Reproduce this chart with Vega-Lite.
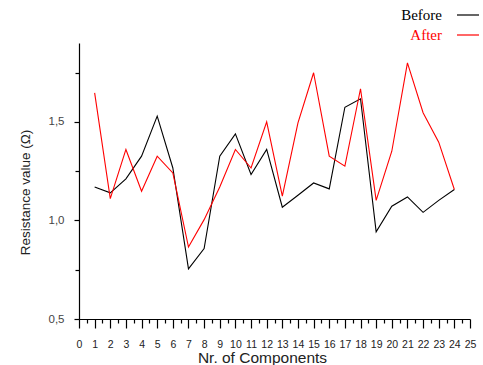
{
  "$schema": "https://vega.github.io/schema/vega-lite/v6.json",
  "width": 391,
  "height": 276,
  "autosize": {"type": "none"},
  "padding": {"left": 79, "top": 43, "right": 13, "bottom": 46},
  "background": "white",
  "config": {
    "view": {"stroke": null},
    "axis": {
      "grid": false,
      "domainColor": "black",
      "domainWidth": 1.2,
      "tickColor": "black",
      "tickWidth": 1.2,
      "labelFont": "Liberation Sans",
      "titleFont": "Liberation Sans",
      "labelColor": "#333",
      "titleColor": "#222",
      "titleFontWeight": "normal"
    }
  },
  "data": {
    "values": [
      {"n": 1, "series": "Before", "value": 1.170},
      {"n": 2, "series": "Before", "value": 1.140},
      {"n": 3, "series": "Before", "value": 1.211},
      {"n": 4, "series": "Before", "value": 1.326},
      {"n": 5, "series": "Before", "value": 1.529},
      {"n": 6, "series": "Before", "value": 1.266},
      {"n": 7, "series": "Before", "value": 0.754},
      {"n": 8, "series": "Before", "value": 0.857},
      {"n": 9, "series": "Before", "value": 1.326},
      {"n": 10, "series": "Before", "value": 1.439},
      {"n": 11, "series": "Before", "value": 1.233},
      {"n": 12, "series": "Before", "value": 1.360},
      {"n": 13, "series": "Before", "value": 1.067},
      {"n": 14, "series": "Before", "value": 1.128},
      {"n": 15, "series": "Before", "value": 1.190},
      {"n": 16, "series": "Before", "value": 1.160},
      {"n": 17, "series": "Before", "value": 1.574},
      {"n": 18, "series": "Before", "value": 1.617},
      {"n": 19, "series": "Before", "value": 0.942},
      {"n": 20, "series": "Before", "value": 1.072},
      {"n": 21, "series": "Before", "value": 1.119},
      {"n": 22, "series": "Before", "value": 1.041},
      {"n": 23, "series": "Before", "value": 1.102},
      {"n": 24, "series": "Before", "value": 1.157},
      {"n": 1, "series": "After", "value": 1.647},
      {"n": 2, "series": "After", "value": 1.111},
      {"n": 3, "series": "After", "value": 1.360},
      {"n": 4, "series": "After", "value": 1.148},
      {"n": 5, "series": "After", "value": 1.326},
      {"n": 6, "series": "After", "value": 1.241},
      {"n": 7, "series": "After", "value": 0.865},
      {"n": 8, "series": "After", "value": 1.004},
      {"n": 9, "series": "After", "value": 1.170},
      {"n": 10, "series": "After", "value": 1.360},
      {"n": 11, "series": "After", "value": 1.266},
      {"n": 12, "series": "After", "value": 1.500},
      {"n": 13, "series": "After", "value": 1.123},
      {"n": 14, "series": "After", "value": 1.495},
      {"n": 15, "series": "After", "value": 1.749},
      {"n": 16, "series": "After", "value": 1.326},
      {"n": 17, "series": "After", "value": 1.275},
      {"n": 18, "series": "After", "value": 1.668},
      {"n": 19, "series": "After", "value": 1.102},
      {"n": 20, "series": "After", "value": 1.351},
      {"n": 21, "series": "After", "value": 1.799},
      {"n": 22, "series": "After", "value": 1.546},
      {"n": 23, "series": "After", "value": 1.397},
      {"n": 24, "series": "After", "value": 1.157}
    ]
  },
  "mark": {"type": "line", "strokeWidth": 1.1},
  "encoding": {
    "x": {
      "field": "n",
      "type": "quantitative",
      "scale": {"domain": [0, 25], "nice": false, "zero": false},
      "axis": {
        "title": "Nr. of Components",
        "titleFontSize": 15.5,
        "titleX": 183,
        "titleY": 43,
        "titleAlign": "center",
        "titleBaseline": "alphabetic",
        "values": [0, 0.5, 1, 1.5, 2, 2.5, 3, 3.5, 4, 4.5, 5, 5.5, 6, 6.5, 7, 7.5, 8, 8.5, 9, 9.5, 10, 10.5, 11, 11.5, 12, 12.5, 13, 13.5, 14, 14.5, 15, 15.5, 16, 16.5, 17, 17.5, 18, 18.5, 19, 19.5, 20, 20.5, 21, 21.5, 22, 22.5, 23, 23.5, 24, 24.5, 25],
        "labelExpr": "datum.value % 1 == 0 ? format(datum.value, 'd') : ''",
        "labelOverlap": false,
        "labelFlush": false,
        "labelBound": false,
        "labelFontSize": 10.5,
        "labelColor": "#222",
        "labelPadding": 11,
        "tickSize": {"condition": {"test": "datum.value % 1 == 0", "value": 9}, "value": 4}
      }
    },
    "y": {
      "field": "value",
      "type": "quantitative",
      "scale": {"domain": [0.5, 1.9], "nice": false, "zero": false},
      "axis": {
        "title": "Resistance value (Ω)",
        "titleFontSize": 13.5,
        "titleX": -54,
        "titleY": 149,
        "titleAlign": "center",
        "titleBaseline": "middle",
        "values": [0.5, 0.75, 1, 1.25, 1.5, 1.75],
        "labelExpr": "datum.value % 0.5 == 0 ? replace(format(datum.value, '.1f'), '.', ',') : ''",
        "labelOverlap": false,
        "labelFlush": false,
        "labelFontSize": 11.5,
        "labelColor": "#444",
        "labelPadding": 10,
        "tickSize": {"condition": {"test": "datum.value % 0.5 == 0", "value": 5}, "value": 4}
      }
    },
    "color": {
      "field": "series",
      "type": "nominal",
      "scale": {"domain": ["Before", "After"], "range": ["black", "#ff0000"]},
      "legend": {
        "title": null,
        "orient": "none",
        "legendX": 377,
        "legendY": -40,
        "padding": 0,
        "symbolType": "stroke",
        "symbolSize": 484,
        "symbolStrokeWidth": 1.2,
        "labelFont": "Liberation Serif",
        "labelFontSize": 15,
        "labelAlign": "right",
        "labelOffset": -38,
        "rowPadding": -3,
        "labelColor": {"expr": "datum.label === 'After' ? '#ff0000' : 'black'"}
      }
    }
  }
}
